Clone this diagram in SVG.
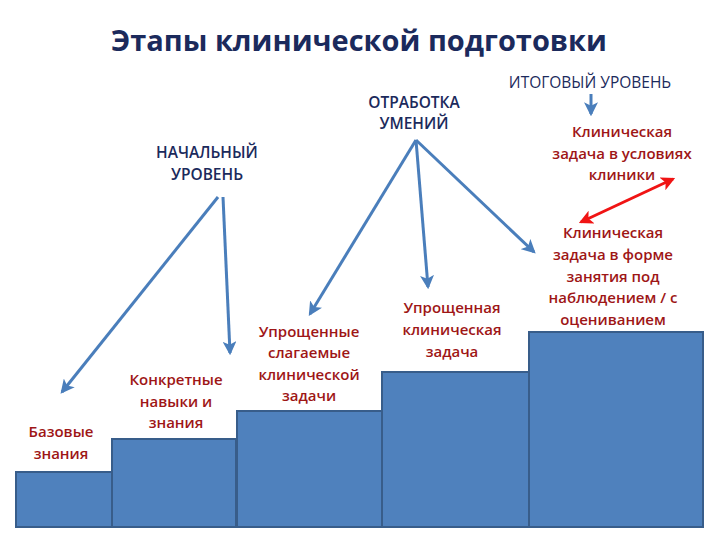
<svg xmlns="http://www.w3.org/2000/svg" width="720" height="540" viewBox="0 0 720 540">
<defs>
<style>
.step{fill:#4F81BD;stroke:#385D8A;stroke-width:2}
.title{font-family:"Open Sans","Noto Sans",sans-serif;font-weight:bold;font-size:29px;fill:#1B2A5C;text-anchor:middle}
.lvl{font-family:"Open Sans","Noto Sans",sans-serif;font-size:15.5px;fill:#1B2A5C;text-anchor:middle}
.lvlb{font-family:"Open Sans","Noto Sans",sans-serif;font-weight:600;font-size:15.5px;fill:#1B2A5C;text-anchor:middle}
.lab{font-family:"Open Sans","Noto Sans",sans-serif;font-weight:600;font-size:15px;fill:#9E1616;text-anchor:middle}
.arr{stroke:#4A7EBB;stroke-width:3;fill:none;marker-end:url(#bh)}
.red{stroke:#F01414;stroke-width:3;fill:none;marker-end:url(#rh);marker-start:url(#rhs)}
</style>
<marker id="bh" viewBox="0 0 12 12" refX="10" refY="6" markerWidth="14" markerHeight="14" markerUnits="userSpaceOnUse" orient="auto">
<path d="M0,0 L12,6 L0,12 L3,6 z" fill="#4A7EBB"/>
</marker>
<marker id="rh" viewBox="0 0 12 12" refX="10" refY="6" markerWidth="14" markerHeight="14" markerUnits="userSpaceOnUse" orient="auto">
<path d="M0,0 L12,6 L0,12 L3,6 z" fill="#F01414"/>
</marker>
<marker id="rhs" viewBox="0 0 12 12" refX="2" refY="6" markerWidth="14" markerHeight="14" markerUnits="userSpaceOnUse" orient="auto">
<path d="M12,0 L0,6 L12,12 L9,6 z" fill="#F01414"/>
</marker>
</defs>
<rect width="720" height="540" fill="#FFFFFF"/>
<text class="title" x="359" y="51">Этапы клинической подготовки</text>

<g id="step1"><rect class="step" x="16" y="472" width="96" height="55"/></g>
<g id="step2"><rect class="step" x="112" y="439" width="124" height="88"/></g>
<g id="step3"><rect class="step" x="237" y="411" width="145" height="116"/></g>
<g id="step4"><rect class="step" x="382" y="372" width="147" height="155"/></g>
<g id="step5"><rect class="step" x="529" y="332" width="174" height="195"/></g>

<g id="itog"><text class="lvl" x="590" y="88">ИТОГОВЫЙ УРОВЕНЬ</text></g>
<g id="otrab"><text class="lvlb" x="414" y="108">ОТРАБОТКА</text><text class="lvlb" x="414" y="129">УМЕНИЙ</text></g>
<g id="nach"><text class="lvlb" x="207" y="158">НАЧАЛЬНЫЙ</text><text class="lvlb" x="207" y="180">УРОВЕНЬ</text></g>

<g id="klin-usl"><text class="lab" x="622" y="137">Клиническая</text><text class="lab" x="622" y="159">задача в условиях</text><text class="lab" x="622" y="180">клиники</text></g>
<g id="klin-forma"><text class="lab" x="613" y="238">Клиническая</text><text class="lab" x="613" y="260">задача в форме</text><text class="lab" x="613" y="282">занятия под</text><text class="lab" x="613" y="303">наблюдением / с</text><text class="lab" x="613" y="325">оцениванием</text></g>
<g id="upr-zad"><text class="lab" x="452" y="313">Упрощенная</text><text class="lab" x="452" y="335">клиническая</text><text class="lab" x="452" y="357">задача</text></g>
<g id="upr-slag"><text class="lab" x="309" y="337">Упрощенные</text><text class="lab" x="309" y="358">слагаемые</text><text class="lab" x="309" y="380">клинической</text><text class="lab" x="309" y="401">задачи</text></g>
<g id="konkr"><text class="lab" x="176" y="385">Конкретные</text><text class="lab" x="176" y="407">навыки и</text><text class="lab" x="176" y="428">знания</text></g>
<g id="baz"><text class="lab" x="61" y="437">Базовые</text><text class="lab" x="61" y="459">знания</text></g>

<g id="connectors">
<line class="arr" x1="218" y1="197" x2="62" y2="392"/>
<line class="arr" x1="223" y1="197" x2="230" y2="353"/>
<line class="arr" x1="416" y1="140" x2="310" y2="314"/>
<line class="arr" x1="416" y1="140" x2="428" y2="287"/>
<line class="arr" x1="416" y1="140" x2="534" y2="252"/>
<line class="arr" x1="591" y1="94" x2="591" y2="114"/>
<line class="red" x1="581" y1="222" x2="673" y2="179"/>
</g>
</svg>
